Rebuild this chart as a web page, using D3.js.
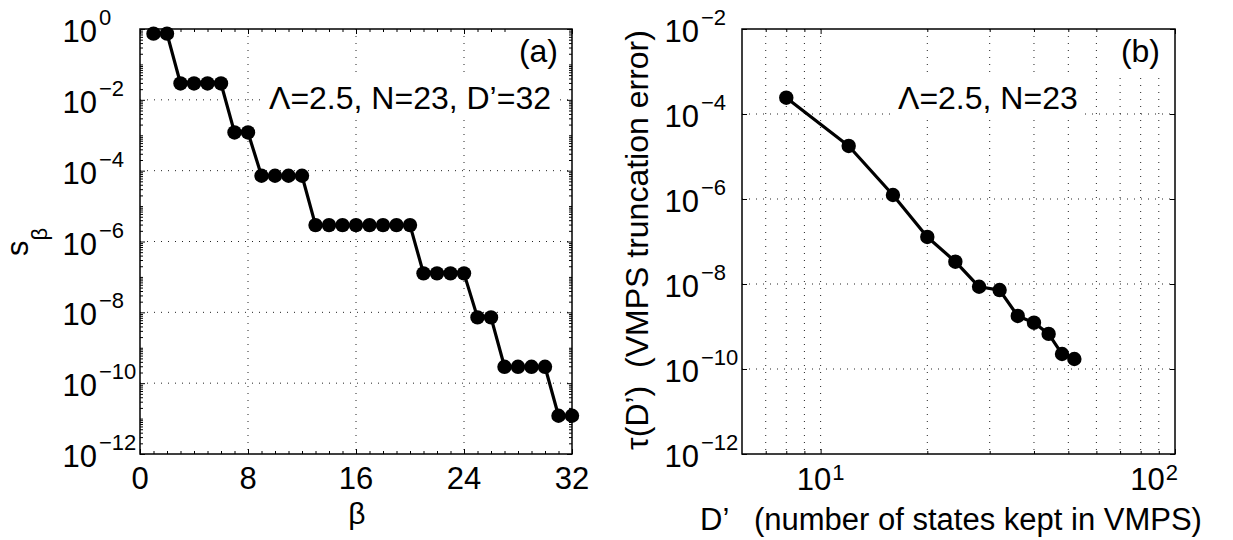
<!DOCTYPE html>
<html>
<head>
<meta charset="utf-8">
<script src="https://cdn.jsdelivr.net/npm/d3@7"></script>
<style>
body { margin: 0; background: #fff; }
text { font-family: "Liberation Sans", Arial, Helvetica, sans-serif; white-space: pre; }
</style>
</head>
<body>
<script>
// panel (a): singular values s_beta vs beta
var beta = [1, 2, 3, 4, 5, 6, 7, 8, 9, 10, 11, 12, 13, 14, 15, 16,
            17, 18, 19, 20, 21, 22, 23, 24, 25, 26, 27, 28, 29, 30, 31, 32];
var sBeta = [0.74, 0.74, 2.9e-2, 2.9e-2, 2.9e-2, 2.9e-2, 1.2e-3, 1.2e-3,
             7.2e-5, 7.2e-5, 7.2e-5, 7.2e-5, 2.9e-6, 2.9e-6, 2.9e-6, 2.9e-6,
             2.9e-6, 2.9e-6, 2.9e-6, 2.9e-6, 1.26e-7, 1.26e-7, 1.26e-7, 1.26e-7,
             7.2e-9, 7.2e-9, 2.9e-10, 2.9e-10, 2.9e-10, 2.9e-10, 1.2e-11, 1.2e-11];
var betaTicks = [0, 8, 16, 24, 32];
var sExps = [0, -2, -4, -6, -8, -10, -12];

// panel (b): truncation error vs D'
var dKept = [8, 12, 16, 20, 24, 28, 32, 36, 40, 44, 48, 52];
var tauD = [2.42e-4, 1.77e-5, 1.24e-6, 1.28e-7, 3.35e-8, 8.6e-9,
            7.2e-9, 1.77e-9, 1.23e-9, 6.7e-10, 2.25e-10, 1.72e-10];
var dExps = [1, 2];
var dMinor = [7, 8, 9, 20, 30, 40, 50, 60, 70, 80, 90];
var tauExps = [-2, -4, -6, -8, -10, -12];

var svg = d3.select("body").append("svg")
    .attr("width", 1233)
    .attr("height", 540);

var xa = d3.scaleLinear().domain([0, 32]).range([140, 572]);
var ya = d3.scaleLog().domain([1e-12, 1]).range([454, 29]);
var xb = d3.scaleLog().domain([6, 100]).range([742, 1175]);
var yb = d3.scaleLog().domain([1e-12, 1e-2]).range([454, 29]);

function pow10(e) { return Math.pow(10, e); }

function grid(g, xs, ys, xv, yv) {
    var xr = xs.range(), yr = ys.range();
    g.selectAll(".gx").data(xv).enter().append("line")
        .attr("x1", function (d) { return xs(d); })
        .attr("x2", function (d) { return xs(d); })
        .attr("y1", yr[1]).attr("y2", yr[0]);
    g.selectAll(".gy").data(yv).enter().append("line")
        .attr("y1", function (d) { return ys(d); })
        .attr("y2", function (d) { return ys(d); })
        .attr("x1", xr[0]).attr("x2", xr[1]);
    g.selectAll("line")
        .attr("stroke", "#222")
        .attr("stroke-width", 1)
        .attr("stroke-dasharray", "1,6");
}

function boxTicks(g, xs, ys, xv, yv, len) {
    var xr = xs.range(), yr = ys.range();
    g.append("g").attr("transform", "translate(0," + yr[0] + ")")
        .call(d3.axisBottom(xs).tickValues(xv).tickSize(-len).tickFormat(""));
    g.append("g").attr("transform", "translate(0," + yr[1] + ")")
        .call(d3.axisTop(xs).tickValues(xv).tickSize(-len).tickFormat(""));
    g.append("g").attr("transform", "translate(" + xr[0] + ",0)")
        .call(d3.axisLeft(ys).tickValues(yv).tickSize(-len).tickFormat(""));
    g.append("g").attr("transform", "translate(" + xr[1] + ",0)")
        .call(d3.axisRight(ys).tickValues(yv).tickSize(-len).tickFormat(""));
    g.selectAll(".domain").remove();
    g.selectAll(".tick line").attr("stroke", "#000").attr("stroke-width", 1);
}

function frame(g, xs, ys) {
    var xr = xs.range(), yr = ys.range();
    g.append("rect")
        .attr("x", xr[0]).attr("y", yr[1])
        .attr("width", xr[1] - xr[0]).attr("height", yr[0] - yr[1])
        .attr("fill", "none").attr("stroke", "#000").attr("stroke-width", 1.5);
}

function yExpLabels(g, ys, exps, xAxis) {
    var t = g.selectAll(".ylab").data(exps).enter().append("g")
        .attr("transform", function (e) { return "translate(" + xAxis + "," + ys(pow10(e)) + ")"; });
    t.append("text").attr("x", -43).attr("y", 13)
        .attr("text-anchor", "end").attr("font-size", 31).text("10");
    t.append("text").attr("x", -41).attr("y", -4)
        .attr("font-size", 22).text(function (e) { return e === 0 ? "0" : "\u2212" + Math.abs(e); });
}

function xExpLabels(g, xs, exps, yAxis) {
    var xmax = xs.range()[1];
    exps.forEach(function (e) {
        var t = g.append("g");
        var b = t.append("text").attr("x", 0).attr("y", 36).attr("font-size", 31).text("10");
        var bw = b.node().getComputedTextLength();
        var s = t.append("text").attr("x", bw + 1).attr("y", 26).attr("font-size", 22).text(e);
        var w = bw + 1 + s.node().getComputedTextLength();
        var x0 = xs(pow10(e)) - w / 2;
        if (x0 + w > xmax + 3) x0 = xmax + 3 - w;
        t.attr("transform", "translate(" + x0 + "," + yAxis + ")");
    });
}

function note(g, x, y, anchor, str) {
    var t = g.append("text").attr("x", x).attr("y", y)
        .attr("text-anchor", anchor).attr("font-size", 32).text(str);
    var bb = t.node().getBBox();
    g.insert("rect", function () { return t.node(); })
        .attr("x", bb.x - 6).attr("y", bb.y - 5)
        .attr("width", bb.width + 12).attr("height", bb.height + 8)
        .attr("fill", "#fff");
}

function series(g, xs, ys, xv, yv) {
    var pts = xv.map(function (d, i) { return [xs(d), ys(yv[i])]; });
    g.append("path")
        .attr("d", d3.line()(pts))
        .attr("fill", "none").attr("stroke", "#000")
        .attr("stroke-width", 3.2).attr("stroke-linejoin", "round");
    g.selectAll("circle").data(pts).enter().append("circle")
        .attr("cx", function (d) { return d[0]; })
        .attr("cy", function (d) { return d[1]; })
        .attr("r", 7.2).attr("fill", "#000");
}

// ---------- panel (a) ----------
var ga = svg.append("g");
grid(ga.append("g"), xa, ya, [8, 16, 24], sExps.slice(1, -1).map(pow10));

var aMinorY = [];
for (var e = -12; e < 0; e++) {
    for (var k = 1; k < 10; k++) {
        if (k === 1 && e % 2 === 0) continue;
        aMinorY.push(k * pow10(e));
    }
}
boxTicks(ga.append("g"), xa, ya, beta, aMinorY, 3);
boxTicks(ga.append("g"), xa, ya, betaTicks, sExps.map(pow10), 5);

var na = ga.append("g");
note(na, 558, 62, "end", "(a)");
note(na, 269, 109, "start", "\u039B=2.5, N=23, D\u2019=32");

frame(ga, xa, ya);
series(ga.append("g"), xa, ya, beta, sBeta);

yExpLabels(ga.append("g"), ya, sExps, 140);
ga.append("g").selectAll("text").data(betaTicks).enter().append("text")
    .attr("x", function (d) { return xa(d); })
    .attr("y", 489)
    .attr("text-anchor", "middle").attr("font-size", 31)
    .text(function (d) { return d; });

ga.append("text")
    .attr("x", 357).attr("y", 524)
    .attr("text-anchor", "middle").attr("font-size", 30)
    .text("\u03B2");

var ylA = ga.append("text")
    .attr("transform", "translate(28,242) rotate(-90)")
    .attr("text-anchor", "middle");
ylA.append("tspan").attr("font-size", 31).text("s");
ylA.append("tspan").attr("font-size", 22).attr("dy", 19).text("\u03B2");

// ---------- panel (b) ----------
var gb = svg.append("g");
grid(gb.append("g"), xb, yb, dMinor.concat([10]), tauExps.slice(1, -1).map(pow10));
boxTicks(gb.append("g"), xb, yb, dMinor, [], 3);
boxTicks(gb.append("g"), xb, yb, dExps.map(pow10), tauExps.map(pow10), 5);

var nb = gb.append("g");
note(nb, 1160, 62, "end", "(b)");
note(nb, 898, 109, "start", "\u039B=2.5, N=23");

frame(gb, xb, yb);
series(gb.append("g"), xb, yb, dKept, tauD);

yExpLabels(gb.append("g"), yb, tauExps, 742);
xExpLabels(gb.append("g"), xb, dExps, 454);

gb.append("text")
    .attr("x", 700).attr("y", 530)
    .attr("font-size", 31)
    .text("D\u2019   (number of states kept in VMPS)");

gb.append("text")
    .attr("transform", "translate(648,240) rotate(-90)")
    .attr("text-anchor", "middle").attr("font-size", 32)
    .text("\u03C4(D\u2019)  (VMPS truncation error)");
</script>
</body>
</html>
